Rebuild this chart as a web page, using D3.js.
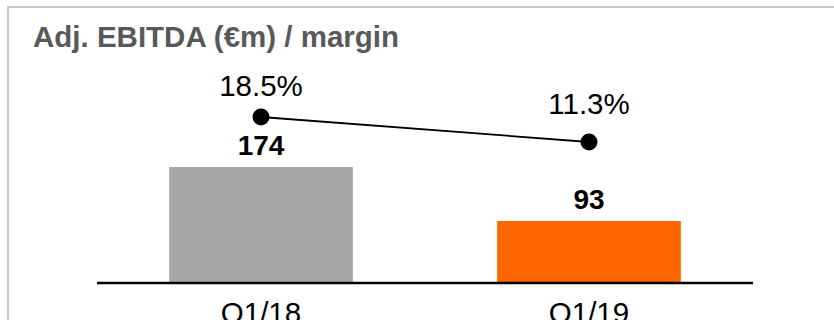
<!DOCTYPE html>
<html>
<head>
<meta charset="utf-8">
<script src="https://cdn.jsdelivr.net/npm/d3@7"></script>
<style>
  body { margin: 0; background: #fff; }
  svg { display: block; }
  text { font-family: Arial, "Liberation Sans", sans-serif; }
</style>
</head>
<body>
<div id="canvas"></div>
<script>
var quarters = ["Q1/18", "Q1/19"];
var ebitda = [174, 93];
var margins = [18.5, 11.3];
var marginLabels = ["18.5%", "11.3%"];
var barColors = ["#a6a6a6", "#ff6600"];

(function () {
    var width = 834, height = 320;

    var svg = d3.select("#canvas")
        .append("svg")
        .attr("width", width)
        .attr("height", height);

    // frame (only top and left edges are in view)
    svg.append("rect")
        .attr("x", 8).attr("y", 7)
        .attr("width", 900).attr("height", 400)
        .attr("fill", "none")
        .attr("stroke", "#c8c8c8")
        .attr("stroke-width", 2);

    svg.append("text")
        .attr("x", 33).attr("y", 47)
        .attr("font-size", 29.5)
        .attr("font-weight", "bold")
        .attr("fill", "#595959")
        .text("Adj. EBITDA (\u20acm) / margin");

    var x = d3.scaleBand()
        .domain(quarters)
        .range([97, 753])
        .paddingInner(0.44)
        .paddingOuter(0.22);

    var y = d3.scaleLinear()
        .domain([0, 174])
        .range([283, 167]);

    var ym = d3.scaleLinear()
        .domain([0, 20])
        .range([181.2, 111.8]);

    svg.selectAll("rect.bar")
        .data(ebitda)
        .enter()
        .append("rect")
        .attr("class", "bar")
        .attr("x", function (d, i) { return x(quarters[i]); })
        .attr("y", function (d) { return y(d); })
        .attr("width", x.bandwidth())
        .attr("height", function (d) { return y(0) - y(d); })
        .attr("fill", function (d, i) { return barColors[i]; });

    svg.selectAll("text.value")
        .data(ebitda)
        .enter()
        .append("text")
        .attr("class", "value")
        .attr("x", function (d, i) { return x(quarters[i]) + x.bandwidth() / 2; })
        .attr("y", function (d) { return y(d) - 12; })
        .attr("text-anchor", "middle")
        .attr("font-size", 28)
        .attr("font-weight", "bold")
        .attr("fill", "#000")
        .text(function (d) { return d; });

    // axis baseline
    var axis = svg.append("g")
        .attr("transform", "translate(0," + y(0) + ")")
        .call(d3.axisBottom(x).tickSize(0).tickPadding(19));
    axis.select(".domain")
        .attr("stroke", "#000")
        .attr("stroke-width", 2.5)
        .attr("d", "M97,0H753");
    axis.selectAll(".tick text")
        .attr("font-size", 29.5)
        .attr("fill", "#000")
        .attr("font-family", "Arial, 'Liberation Sans', sans-serif")
        .attr("dy", "0.71em");

    var line = d3.line()
        .x(function (d, i) { return x(quarters[i]) + x.bandwidth() / 2; })
        .y(function (d) { return ym(d); });

    svg.append("path")
        .datum(margins)
        .attr("d", line)
        .attr("fill", "none")
        .attr("stroke", "#000")
        .attr("stroke-width", 1.8);

    svg.selectAll("circle.dot")
        .data(margins)
        .enter()
        .append("circle")
        .attr("class", "dot")
        .attr("cx", function (d, i) { return x(quarters[i]) + x.bandwidth() / 2; })
        .attr("cy", function (d) { return ym(d); })
        .attr("r", 8.5)
        .attr("fill", "#000");

    var labelDy = [-21, -28];
    svg.selectAll("text.margin")
        .data(margins)
        .enter()
        .append("text")
        .attr("class", "margin")
        .attr("x", function (d, i) { return x(quarters[i]) + x.bandwidth() / 2; })
        .attr("y", function (d, i) { return ym(d) + labelDy[i]; })
        .attr("text-anchor", "middle")
        .attr("font-size", 29.5)
        .attr("fill", "#000")
        .text(function (d, i) { return marginLabels[i]; });
})();
</script>
</body>
</html>
